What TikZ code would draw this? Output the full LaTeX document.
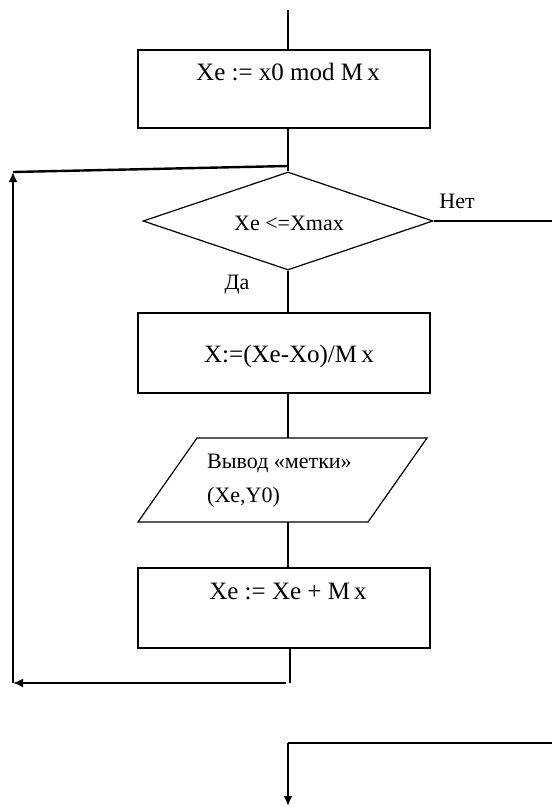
\documentclass[tikz,border=0pt]{standalone}
\usepackage{fontspec}
\setmainfont{Liberation Serif}
\usetikzlibrary{shapes.geometric,arrows.meta}
\begin{document}
\begin{tikzpicture}[x=1pt,y=-1pt,
  blk/.style={draw,line width=1.2pt,minimum width=292pt,minimum height=78pt,inner sep=0pt},
  txt/.style={inner sep=0pt,font=\fontsize{25}{30}\selectfont},
  stxt/.style={inner sep=0pt,font=\fontsize{22}{26}\selectfont},
  ln/.style={line width=1.2pt},
  thk/.style={line width=2.4pt},
  arr/.style={-{Latex[length=10pt,width=9pt]}}]
\useasboundingbox (0,0) rectangle (552,807);
% nodes
\coordinate (top) at (288,10);
\node[blk] (b1) at (284,89) {};
\node[txt] (t1) at (288,72) {Xe := x0 mod M\,x};
\coordinate (j) at (288,166);
\node[draw,ln,diamond,minimum width=290pt,minimum height=98pt,inner sep=0pt] (d) at (288,221) {};
\node[stxt] (td) at (289,223) {Xe <=Xmax};
\node[stxt] (no) at (457,201) {Нет};
\node[stxt] (yes) at (237,285) {Да};
\node[blk,minimum height=80pt] (b2) at (284,353) {};
\node[txt] (t2) at (289,356) {X:=(Xe-Xo)/M\,x};
\coordinate (pTL) at (197,438);
\coordinate (pTR) at (427,438);
\coordinate (pBR) at (368,522);
\coordinate (pBL) at (138,522);
\coordinate (pT) at (288,438);
\coordinate (pB) at (288,522);
\draw[ln,line join=miter] (pTL) -- (pTR) -- (pBR) -- (pBL) -- cycle;
\node[stxt,anchor=west] (p1) at (207,463) {Вывод «метки»};
\node[stxt,anchor=west] (p2) at (207,497) {(Xe,Y0)};
\node[blk,minimum height=80pt] (b3) at (284,608) {};
\node[txt] (t3) at (288,591) {Xe := Xe + M\,x};
\coordinate (lbT) at (290,648);
\coordinate (lbB) at (290,683);
\coordinate (lbR) at (286,683);
\coordinate (lbL) at (13,683);
\coordinate (ltL) at (13,172);
\coordinate (dr) at (552,221);
\coordinate (bR) at (552,743);
\coordinate (bM) at (288,743);
\coordinate (bE) at (288,806);
% connectors
\draw[ln] (top) -- (top |- b1.north);
\draw[ln] (top |- b1.south) -- (j);
\draw[ln] (j) -- (d.north);
\draw[ln] (d.east) -- (dr);
\draw[ln] (d.south) -- (d.south |- b2.north);
\draw[ln] (d.south |- b2.south) -- (pT);
\draw[ln] (pB) -- (pB |- b3.north);
\draw[ln] (lbT) -- (lbB);
\draw[thk,arr] (lbR) -- (lbL);
\draw[thk,arr] (lbL) -- (ltL);
\draw[thk] (ltL) -- (j);
\draw[thk] (bR) -- (bM);
\draw[thk,arr] (bM) -- (bE);
\end{tikzpicture}
\end{document}
